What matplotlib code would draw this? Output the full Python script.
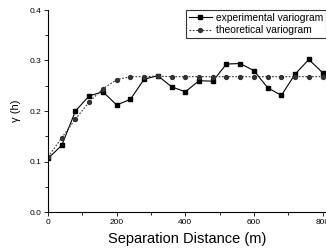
import matplotlib
matplotlib.use("Agg")
import matplotlib.pyplot as plt
from matplotlib.ticker import MultipleLocator

plt.rcParams.update({
    "font.family": ["Liberation Sans", "DejaVu Sans"],
    "axes.unicode_minus": False,
})

# data
lag_m = [0, 40, 80, 120, 160, 200, 240, 280, 320, 360, 400,
         440, 480, 520, 560, 600, 640, 680, 720, 760, 800]
experimental = [0.106, 0.132, 0.200, 0.230, 0.238, 0.212, 0.223, 0.263, 0.270, 0.248, 0.238,
                0.260, 0.259, 0.293, 0.294, 0.280, 0.246, 0.231, 0.273, 0.302, 0.276]
theoretical = [0.109, 0.147, 0.184, 0.218, 0.244, 0.262, 0.268, 0.268, 0.269, 0.268, 0.268,
               0.268, 0.268, 0.268, 0.268, 0.268, 0.268, 0.268, 0.268, 0.268, 0.268]

fig = plt.figure(figsize=(3.26, 2.49), dpi=100)
ax = fig.add_axes([48 / 326, 1 - 212 / 249, 278 / 326, (212 - 10) / 249])

ax.plot(lag_m, experimental, color="black", linewidth=0.8, marker="s",
        markersize=3.5, label="experimental variogram")
ax.plot(lag_m, theoretical, color="#333333", linewidth=0.8, linestyle=(0, (1.5, 1.5)),
        marker="o", markersize=2.8, label="theoretical variogram")

ax.set_xlim(0, 810)
ax.set_ylim(0, 0.4)
ax.xaxis.set_major_locator(MultipleLocator(200))
ax.xaxis.set_minor_locator(MultipleLocator(100))
ax.yaxis.set_major_locator(MultipleLocator(0.1))
ax.yaxis.set_minor_locator(MultipleLocator(0.05))
ax.yaxis.set_major_formatter(plt.FormatStrFormatter("%.1f"))

for side in ("top", "right"):
    ax.spines[side].set_visible(False)
for side in ("left", "bottom"):
    ax.spines[side].set_linewidth(0.8)
ax.tick_params(which="major", direction="out", length=3, width=0.6, labelsize=6, pad=2)
ax.tick_params(which="minor", direction="out", length=2, width=0.6)

ax.set_xlabel("Separation Distance (m)", fontsize=10.5, labelpad=4)
ax.set_ylabel("\u03b3 (h)", fontsize=8, labelpad=6)

leg = ax.legend(loc="upper right", bbox_to_anchor=(1.0, 1.0), fontsize=7.4,
                frameon=True, fancybox=False, edgecolor="black", handlelength=2.2,
                handletextpad=0.4, borderpad=0.3, labelspacing=0.2, borderaxespad=0)
leg.get_frame().set_linewidth(0.8)

fig.savefig("out.png", dpi=100)
